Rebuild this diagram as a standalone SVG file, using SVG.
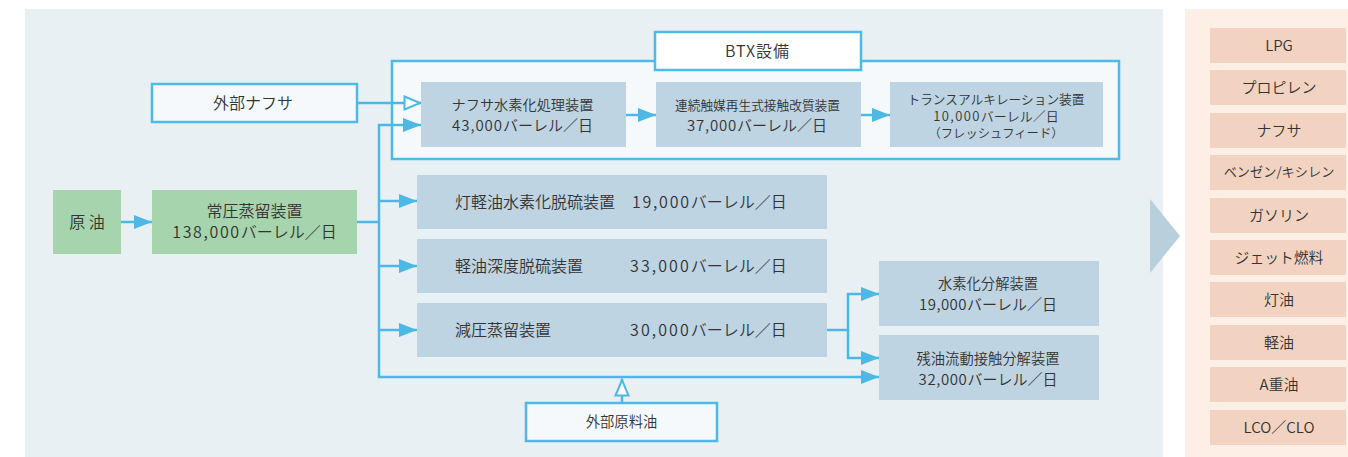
<svg xmlns="http://www.w3.org/2000/svg" width="1348" height="457" viewBox="0 0 1348 457">
<defs>
<style>
text{font-family:"Noto Sans CJK JP","Noto Sans",sans-serif;fill:#333;font-size:16px;font-weight:350}
.c{text-anchor:middle}
.s{font-size:12.7px}
.m{font-size:14.3px}
.f15{font-size:15px}
.p{font-size:15px;text-anchor:middle}
.green{fill:#a6d4ac}
.unit{fill:#bed4e2}
.ext{fill:#f5f9fb;stroke:#4dbbe6;stroke-width:2.5}
.prod{fill:#f2d3c1}
.conn{fill:none;stroke:#4db8e4;stroke-width:2.5}
</style>
<marker id="af" markerUnits="userSpaceOnUse" markerWidth="20" markerHeight="16" refX="18" refY="7" orient="auto">
<path d="M0,0 L18,7 L0,14 z" fill="#4db8e4"/>
</marker>
<marker id="ah" markerUnits="userSpaceOnUse" markerWidth="22" markerHeight="18" refX="18" refY="8" orient="auto">
<path d="M1.5,1.5 L17,8 L1.5,14.5 z" fill="#fff" stroke="#4db8e4" stroke-width="2"/>
</marker>
</defs>
<rect x="0" y="0" width="1348" height="457" fill="#fff"/>
<rect x="25" y="9" width="1138" height="448" fill="#e8f0f4"/>
<rect x="1185" y="9" width="163" height="448" fill="#fdeee6"/>
<polygon points="1150,199 1180,236 1150,273" fill="#b9cfdc"/>

<g id="btx-frame">
<rect x="392" y="61" width="727" height="98" class="ext"/>
<rect x="655" y="32" width="206" height="38" fill="#fff" stroke="#4dbbe6" stroke-width="2.5"/>
<text x="757" y="56.5" class="c" textLength="64">BTX設備</text>
</g>

<g id="connectors">
<path class="conn" d="M121,222 H152" marker-end="url(#af)"/>
<path class="conn" d="M357,222 H379"/>
<path class="conn" d="M379,222 V125 H421" marker-end="url(#af)"/>
<path class="conn" d="M379,201 H417" marker-end="url(#af)"/>
<path class="conn" d="M379,266 H417" marker-end="url(#af)"/>
<path class="conn" d="M379,330 H417" marker-end="url(#af)"/>
<path class="conn" d="M379,222 V377 H879" marker-end="url(#af)"/>
<path class="conn" d="M357,103 H421" marker-end="url(#ah)"/>
<path class="conn" d="M626,115 H656" marker-end="url(#af)"/>
<path class="conn" d="M861,115 H890" marker-end="url(#af)"/>
<path class="conn" d="M827,330 H848 V294 H879" marker-end="url(#af)"/>
<path class="conn" d="M848,330 V358 H879" marker-end="url(#af)"/>
<path class="conn" d="M622,403 V379" marker-end="url(#ah)"/>
</g>

<g id="crude">
<rect x="53" y="190" width="68" height="64" class="green"/>
<text x="87" y="227.5" class="c">原 油</text>
</g>
<g id="cdu">
<rect x="152" y="190" width="205" height="64" class="green"/>
<text x="254.5" y="216.5" class="c">常圧蒸留装置</text>
<text x="254.5" y="238" class="c"><tspan letter-spacing="1.65">138,000</tspan>バーレル／日</text>
</g>
<g id="ext-naphtha">
<rect x="152" y="84" width="205" height="38" class="ext"/>
<text x="253" y="108.5" class="c">外部ナフサ</text>
</g>
<g id="nht">
<rect x="421" y="82" width="205" height="65" class="unit"/>
<text x="522.5" y="109.5" class="c" style="font-size:14.2px">ナフサ水素化処理装置</text>
<text x="522.5" y="131" class="c f15"><tspan letter-spacing="0.95">43,000</tspan>バーレル／日</text>
</g>
<g id="ccr">
<rect x="656" y="82" width="205" height="65" class="unit"/>
<text x="757.5" y="109.5" class="c s">連続触媒再生式接触改質装置</text>
<text x="757" y="131" class="c f15"><tspan letter-spacing="0.8">37,000</tspan>バーレル／日</text>
</g>
<g id="ta">
<rect x="890" y="82" width="213" height="65" class="unit"/>
<text x="996" y="103.5" class="c s">トランスアルキレーション装置</text>
<text x="996" y="120.5" class="c" style="font-size:13px"><tspan letter-spacing="1.4">10,000</tspan>バーレル／日</text>
<text x="996" y="137.5" class="c" style="font-size:12.3px">（フレッシュフィード）</text>
</g>
<g id="kht">
<rect x="417" y="175" width="410" height="54" class="unit"/>
<text x="455" y="207.5">灯軽油水素化脱硫装置</text>
<text x="632" y="207.5"><tspan letter-spacing="1.75">19,000</tspan>バーレル／日</text>
</g>
<g id="gohds">
<rect x="417" y="239" width="410" height="54" class="unit"/>
<text x="455" y="271.5">軽油深度脱硫装置</text>
<text x="630" y="271.5"><tspan letter-spacing="2.1">33,000</tspan>バーレル／日</text>
</g>
<g id="vdu">
<rect x="417" y="303" width="410" height="54" class="unit"/>
<text x="455" y="335.5">減圧蒸留装置</text>
<text x="630" y="335.5"><tspan letter-spacing="2.1">30,000</tspan>バーレル／日</text>
</g>
<g id="hcu">
<rect x="879" y="261" width="220" height="65" class="unit"/>
<text x="988" y="288.5" class="c m">水素化分解装置</text>
<text x="988" y="310" class="c f15"><tspan letter-spacing="0.45">19,000</tspan>バーレル／日</text>
</g>
<g id="rfcc">
<rect x="879" y="335" width="220" height="65" class="unit"/>
<text x="988" y="363.5" class="c m">残油流動接触分解装置</text>
<text x="988" y="385" class="c f15"><tspan letter-spacing="0.6">32,000</tspan>バーレル／日</text>
</g>
<g id="ext-feed">
<rect x="526" y="403" width="191" height="38" class="ext"/>
<text x="621.5" y="427" class="c m">外部原料油</text>
</g>

<g id="products">
<rect x="1210" y="28" width="136" height="35" class="prod"/><text x="1279" y="50.5" class="p">LPG</text>
<rect x="1210" y="70" width="136" height="35" class="prod"/><text x="1279" y="92.5" class="p">プロピレン</text>
<rect x="1210" y="113" width="136" height="35" class="prod"/><text x="1279" y="135.5" class="p">ナフサ</text>
<rect x="1210" y="155" width="136" height="35" class="prod"/><text x="1279" y="177" class="p" style="font-size:13.2px">ベンゼン/キシレン</text>
<rect x="1210" y="198" width="136" height="35" class="prod"/><text x="1279" y="220.5" class="p">ガソリン</text>
<rect x="1210" y="240" width="136" height="35" class="prod"/><text x="1279" y="262.5" class="p" style="font-size:14.8px">ジェット燃料</text>
<rect x="1210" y="282" width="136" height="35" class="prod"/><text x="1279" y="304.5" class="p">灯油</text>
<rect x="1210" y="325" width="136" height="35" class="prod"/><text x="1279" y="347.5" class="p">軽油</text>
<rect x="1210" y="367" width="136" height="35" class="prod"/><text x="1279" y="389.5" class="p">A重油</text>
<rect x="1210" y="410" width="136" height="35" class="prod"/><text x="1279" y="432.5" class="p">LCO／CLO</text>
</g>
</svg>
